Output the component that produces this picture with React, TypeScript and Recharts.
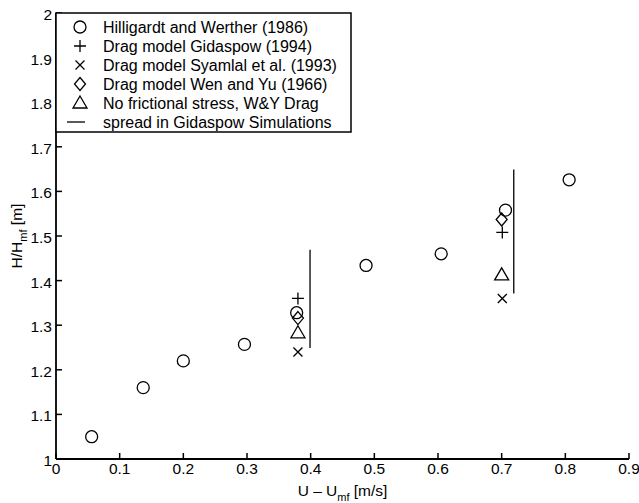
import { ScatterChart, Scatter, XAxis, YAxis } from "recharts";

const xTicks = [0, 0.1, 0.2, 0.3, 0.4, 0.5, 0.6, 0.7, 0.8, 0.9];
const yTicks = [1, 1.1, 1.2, 1.3, 1.4, 1.5, 1.6, 1.7, 1.8, 1.9, 2];

// H/H_mf against U - U_mf
const hilligardt = [
  { x: 0.056, y: 1.05 },
  { x: 0.137, y: 1.16 },
  { x: 0.2, y: 1.22 },
  { x: 0.296, y: 1.257 },
  { x: 0.378, y: 1.328 },
  { x: 0.487, y: 1.434 },
  { x: 0.605, y: 1.46 },
  { x: 0.706, y: 1.558 },
  { x: 0.806, y: 1.626 }
];
const gidaspow = [
  { x: 0.38, y: 1.36 },
  { x: 0.701, y: 1.508 }
];
const syamlal = [
  { x: 0.38, y: 1.24 },
  { x: 0.701, y: 1.36 }
];
const wenYu = [
  { x: 0.38, y: 1.316 },
  { x: 0.7, y: 1.537 }
];
const noFriction = [
  { x: 0.38, y: 1.283 },
  { x: 0.7, y: 1.413 }
];
const spreadLow = [
  { x: 0.399, y: 1.249 },
  { x: 0.399, y: 1.469 }
];
const spreadHigh = [
  { x: 0.719, y: 1.371 },
  { x: 0.719, y: 1.649 }
];

const FONT = '"Liberation Sans", Arial, Helvetica, sans-serif';
const SW = 1.3;

const circleMark = (cx: number, cy: number) => (
  <circle cx={cx} cy={cy} r={6} fill="none" stroke="#000" strokeWidth={SW} />
);
const plusMark = (cx: number, cy: number) => (
  <path d={`M${cx - 6},${cy}H${cx + 6}M${cx},${cy - 6}V${cy + 6}`} stroke="#000" strokeWidth={SW} fill="none" />
);
const crossMark = (cx: number, cy: number) => (
  <path
    d={`M${cx - 4.5},${cy - 4.5}L${cx + 4.5},${cy + 4.5}M${cx - 4.5},${cy + 4.5}L${cx + 4.5},${cy - 4.5}`}
    stroke="#000"
    strokeWidth={SW}
    fill="none"
  />
);
const diamondMark = (cx: number, cy: number) => (
  <path
    d={`M${cx},${cy - 6.5}L${cx + 5.5},${cy}L${cx},${cy + 6.5}L${cx - 5.5},${cy}Z`}
    stroke="#000"
    strokeWidth={SW}
    fill="none"
  />
);
const triangleMark = (cx: number, cy: number) => (
  <path
    d={`M${cx},${cy - 7}L${cx + 7},${cy + 5}L${cx - 7},${cy + 5}Z`}
    stroke="#000"
    strokeWidth={SW}
    fill="none"
  />
);

const shapeOf = (mark: (cx: number, cy: number) => JSX.Element) => (props: any) => mark(props.cx, props.cy);

const BottomTick = (props: any) => {
  const { x, y, payload } = props;
  return (
    <g>
      <line x1={x} y1={y} x2={x} y2={y - 6} stroke="#000" strokeWidth={1.5} />
      <text x={x} y={y + 15} textAnchor="middle" fontSize={15.5} fontFamily={FONT} fill="#000">
        {String(payload.value)}
      </text>
    </g>
  );
};

const TopTick = (props: any) => {
  const { x, y } = props;
  return <line x1={x} y1={y} x2={x} y2={y + 6} stroke="#000" strokeWidth={1.5} />;
};

const LeftTick = (props: any) => {
  const { x, y, payload } = props;
  return (
    <g>
      <line x1={x} y1={y} x2={x + 6} y2={y} stroke="#000" strokeWidth={1.5} />
      <text x={x - 4} y={y + 7} textAnchor="end" fontSize={15.5} fontFamily={FONT} fill="#000">
        {String(payload.value)}
      </text>
    </g>
  );
};

const RightTick = (props: any) => {
  const { x, y } = props;
  return <line x1={x} y1={y} x2={x - 6} y2={y} stroke="#000" strokeWidth={1.5} />;
};

const XLabel = (props: any) => {
  const vb = props.viewBox || { x: 56, y: 459, width: 573 };
  return (
    <text x={vb.x + vb.width / 2} y={vb.y + 37} textAnchor="middle" fontSize={15.5} fontFamily={FONT} fill="#000">
      U – U
      <tspan fontSize={11} dy={5}>mf</tspan>
      <tspan dy={-5}> [m/s]</tspan>
    </text>
  );
};

const YLabel = (props: any) => {
  const vb = props.viewBox || { x: 16, y: 13, height: 446 };
  const cx = 22;
  const cy = vb.y + vb.height / 2;
  return (
    <text
      x={cx}
      y={cy}
      transform={`rotate(-90, ${cx}, ${cy})`}
      textAnchor="middle"
      fontSize={15.5}
      fontFamily={FONT}
      fill="#000"
    >
      H/H
      <tspan fontSize={11} dy={5}>mf</tspan>
      <tspan dy={-5}> [m]</tspan>
    </text>
  );
};

const legendRows = [
  { name: "Hilligardt and Werther (1986)", mark: circleMark },
  { name: "Drag model Gidaspow (1994)", mark: plusMark },
  { name: "Drag model Syamlal et al. (1993)", mark: crossMark },
  { name: "Drag model Wen and Yu (1966)", mark: diamondMark },
  { name: "No frictional stress, W&Y Drag", mark: triangleMark },
  { name: "spread in Gidaspow Simulations", mark: null }
];

function LegendBox() {
  return (
    <svg
      width={297}
      height={121}
      style={{ position: "absolute", left: 55, top: 12 }}
    >
      <rect x={1} y={1} width={295} height={119} fill="#fff" stroke="#000" strokeWidth={1.5} />
      {legendRows.map((row, i) => {
        const cy = 15 + i * 19;
        return (
          <g key={row.name}>
            {row.mark ? (
              row.mark(25, cy)
            ) : (
              <line x1={12} y1={cy} x2={30} y2={cy} stroke="#000" strokeWidth={SW} />
            )}
            <text x={48} y={cy + 5.5} fontSize={16} fontFamily={FONT} fill="#000">
              {row.name}
            </text>
          </g>
        );
      })}
    </svg>
  );
}

export default function App() {
  return (
    <div style={{ position: "absolute", left: 0, top: 0, width: 639, height: 503, background: "#fff" }}>
      <ScatterChart width={639} height={503} margin={{ top: 13, right: 10, bottom: 13, left: 16 }}>
        <XAxis
          xAxisId="b"
          type="number"
          dataKey="x"
          orientation="bottom"
          domain={[0, 0.9]}
          ticks={xTicks}
          height={31}
          tickSize={0}
          tickMargin={0}
          tickLine={false}
          tick={<BottomTick />}
          axisLine={{ stroke: "#000", strokeWidth: 1.8 }}
          allowDataOverflow
          label={<XLabel />}
        />
        <XAxis
          xAxisId="t"
          type="number"
          dataKey="x"
          orientation="top"
          domain={[0, 0.9]}
          ticks={xTicks}
          height={0}
          tickSize={0}
          tickMargin={0}
          tickLine={false}
          tick={<TopTick />}
          axisLine={{ stroke: "#000", strokeWidth: 1.8 }}
          allowDataOverflow
        />
        <YAxis
          yAxisId="l"
          type="number"
          dataKey="y"
          orientation="left"
          domain={[1, 2]}
          ticks={yTicks}
          width={40}
          tickSize={0}
          tickMargin={0}
          tickLine={false}
          tick={<LeftTick />}
          axisLine={{ stroke: "#000", strokeWidth: 1.8 }}
          allowDataOverflow
          label={<YLabel />}
        />
        <YAxis
          yAxisId="r"
          type="number"
          dataKey="y"
          orientation="right"
          domain={[1, 2]}
          ticks={yTicks}
          width={0}
          tickSize={0}
          tickMargin={0}
          tickLine={false}
          tick={<RightTick />}
          axisLine={{ stroke: "#000", strokeWidth: 1.8 }}
          allowDataOverflow
        />
        <Scatter
          name="spread in Gidaspow Simulations"
          data={spreadLow}
          xAxisId="b"
          yAxisId="l"
          line={{ stroke: "#000", strokeWidth: SW }}
          shape={() => <g />}
          isAnimationActive={false}
        />
        <Scatter
          name="spread high"
          data={spreadHigh}
          xAxisId="b"
          yAxisId="l"
          line={{ stroke: "#000", strokeWidth: SW }}
          shape={() => <g />}
          isAnimationActive={false}
        />
        <Scatter name="Hilligardt and Werther (1986)" data={hilligardt} xAxisId="b" yAxisId="l" shape={shapeOf(circleMark)} isAnimationActive={false} />
        <Scatter name="Drag model Gidaspow (1994)" data={gidaspow} xAxisId="b" yAxisId="l" shape={shapeOf(plusMark)} isAnimationActive={false} />
        <Scatter name="Drag model Syamlal et al. (1993)" data={syamlal} xAxisId="b" yAxisId="l" shape={shapeOf(crossMark)} isAnimationActive={false} />
        <Scatter name="Drag model Wen and Yu (1966)" data={wenYu} xAxisId="b" yAxisId="l" shape={shapeOf(diamondMark)} isAnimationActive={false} />
        <Scatter name="No frictional stress, W&Y Drag" data={noFriction} xAxisId="b" yAxisId="l" shape={shapeOf(triangleMark)} isAnimationActive={false} />
      </ScatterChart>
      <LegendBox />
    </div>
  );
}
